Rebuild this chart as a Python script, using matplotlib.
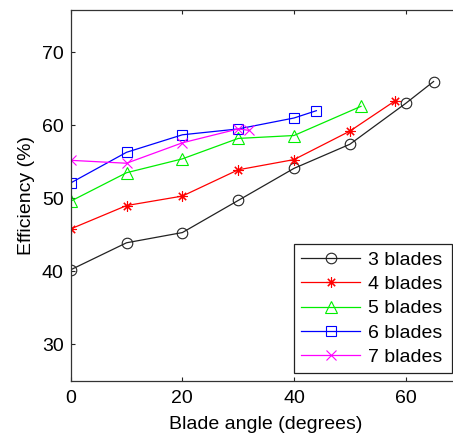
import matplotlib
matplotlib.use("Agg")
import matplotlib.pyplot as plt

plt.rcParams['font.family'] = ['Liberation Sans', 'DejaVu Sans']

x3 = [0, 10, 20, 30, 40, 50, 60, 65]
y3 = [40.2, 43.9, 45.3, 49.7, 54.1, 57.4, 63.0, 66.0]
x4 = [0, 10, 20, 30, 40, 50, 58]
y4 = [45.8, 49.0, 50.3, 53.9, 55.3, 59.2, 63.3]
x5 = [0, 10, 20, 30, 40, 52]
y5 = [49.6, 53.5, 55.4, 58.2, 58.6, 62.6]
x6 = [0, 10, 20, 30, 40, 44]
y6 = [52.1, 56.3, 58.7, 59.5, 61.0, 62.0]
x7 = [0, 10, 20, 30, 32]
y7 = [55.2, 54.8, 57.6, 59.5, 59.3]

labels = ['3 blades', '4 blades', '5 blades', '6 blades', '7 blades']
xticks = [0, 20, 40, 60]
yticks = [30, 40, 50, 60, 70]

W, H = 453, 433
fig = plt.figure(figsize=(W/100, H/100), dpi=100)
ax = fig.add_axes([70.7/W, 1-380.7/H, 390.8/W, (380.7-10)/H])

series = [
    (x3, y3, '#222222', 'o', 7.6),
    (x4, y4, '#ff0000', (8, 2, 0), 7.4),
    (x5, y5, '#00ee00', '^', 8.4),
    (x6, y6, '#0000ff', 's', 7.2),
    (x7, y7, '#ff00ff', 'x', 6.6),
]
for (xs, ys, c, m, ms), lab in zip(series, labels):
    ax.plot(xs, ys, color=c, marker=m, markersize=ms, markerfacecolor='none',
            markeredgecolor=c, markeredgewidth=0.8, linewidth=0.9, label=lab)

ax.set_xlim(0, 70)
ax.set_ylim(25, 75.8)
ax.set_xticks(xticks)
ax.set_yticks(yticks)
ax.tick_params(direction='in', length=3, width=0.8, colors='#222222',
               labelsize=14, top=True, right=True)
ax.tick_params(axis='x', pad=7, labelcolor='black')
ax.tick_params(axis='y', pad=5, labelcolor='black')
for s in ax.spines.values():
    s.set_color('#333333')
    s.set_linewidth(0.9)

ax.set_xlabel('Blade angle (degrees)', fontsize=14, labelpad=6)
ax.set_ylabel('Efficiency (%)', fontsize=14, labelpad=5)

leg = ax.legend(loc='upper left', bbox_to_anchor=(294/W, 1-244/H, (451.7-294)/W, 0),
                bbox_transform=fig.transFigure, mode='expand', fontsize=14,
                fancybox=False, framealpha=1, edgecolor='#222222',
                handlelength=3.0, handletextpad=0.4, borderaxespad=0, labelspacing=0.34,
                borderpad=0.38)
leg.get_frame().set_linewidth(0.9)

fig.savefig('out.png', dpi=100)
